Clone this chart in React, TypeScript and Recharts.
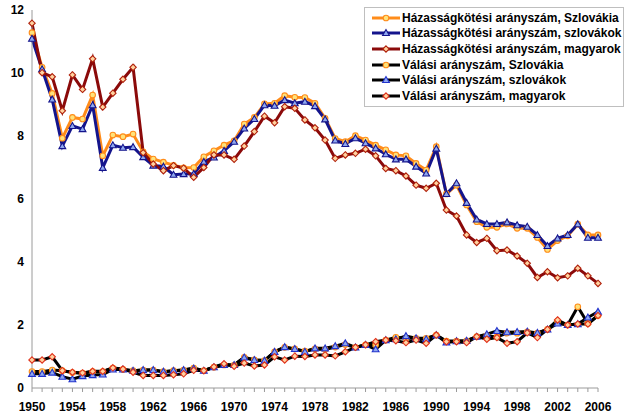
import React from 'react';
import { LineChart, Line, XAxis, YAxis } from 'recharts';

const years: number[] = [];
for (let y = 1950; y <= 2006; y++) years.push(y);

const marriageSlovakia = [
  11.28, 10.18, 9.35, 7.93, 8.59, 8.54, 9.30, 7.37, 8.03, 7.98, 8.06, 7.50, 7.27, 7.17, 7.07, 6.99, 7.00,
  7.34, 7.53, 7.71, 7.85, 8.38, 8.59, 9.02, 9.04, 9.28, 9.23, 9.22, 9.04, 8.56, 7.92,
  7.82, 8.01, 7.87, 7.71, 7.56, 7.40, 7.37, 7.13, 6.92, 7.66, 6.16, 6.44, 5.81, 5.28,
  5.10, 5.10, 5.21, 5.07, 5.07, 4.78, 4.40, 4.68, 4.83, 5.20, 4.86, 4.86,
];
const marriageSlovaks = [
  11.09, 10.12, 9.16, 7.68, 8.32, 8.22, 8.98, 6.99, 7.71, 7.63, 7.65, 7.33, 7.06, 7.03, 6.77, 6.79, 6.80,
  7.18, 7.32, 7.53, 7.82, 8.24, 8.54, 8.98, 8.96, 9.14, 9.04, 9.09, 8.95, 8.53, 7.86,
  7.75, 7.93, 7.77, 7.61, 7.42, 7.26, 7.26, 7.03, 6.81, 7.60, 6.16, 6.50, 5.88, 5.35,
  5.21, 5.21, 5.26, 5.17, 5.12, 4.86, 4.51, 4.75, 4.86, 5.20, 4.77, 4.77,
];
const marriageHungarians = [
  11.58, 10.01, 9.88, 8.80, 9.94, 9.48, 10.45, 8.92, 9.36, 9.80, 10.18, 7.47, 7.11, 6.90, 7.06, 6.98, 6.69,
  7.00, 7.40, 7.40, 7.26, 7.68, 8.14, 8.63, 8.42, 8.93, 8.88, 8.51, 8.26, 7.87, 7.29,
  7.40, 7.45, 7.58, 7.37, 6.97, 6.90, 6.73, 6.44, 6.34, 6.50, 5.65, 5.46, 4.86, 4.62,
  4.75, 4.36, 4.38, 4.19, 3.96, 3.51, 3.69, 3.50, 3.56, 3.80, 3.56, 3.32,
];
const divorceSlovakia = [
  0.52, 0.52, 0.57, 0.55, 0.49, 0.47, 0.52, 0.52, 0.63, 0.59, 0.55, 0.57, 0.57, 0.52, 0.55, 0.57, 0.63,
  0.55, 0.66, 0.73, 0.73, 0.97, 0.89, 0.87, 1.15, 1.29, 1.24, 1.17, 1.24, 1.22, 1.30,
  1.38, 1.29, 1.37, 1.37, 1.52, 1.61, 1.58, 1.58, 1.58, 1.68, 1.49, 1.49, 1.50, 1.63,
  1.66, 1.62, 1.74, 1.74, 1.78, 1.74, 1.86, 2.12, 2.00, 2.58, 2.05, 2.30,
];
const divorceSlovaks = [
  0.45, 0.45, 0.49, 0.36, 0.28, 0.38, 0.41, 0.43, 0.59, 0.59, 0.55, 0.57, 0.57, 0.52, 0.55, 0.57, 0.62,
  0.55, 0.66, 0.73, 0.73, 0.97, 0.89, 0.87, 1.15, 1.30, 1.24, 1.15, 1.26, 1.26, 1.33,
  1.42, 1.29, 1.37, 1.23, 1.52, 1.55, 1.65, 1.58, 1.55, 1.68, 1.45, 1.49, 1.50, 1.63,
  1.71, 1.81, 1.77, 1.78, 1.79, 1.75, 1.86, 2.05, 2.00, 2.03, 2.24, 2.42,
];
const divorceHungarians = [
  0.89, 0.89, 0.99, 0.55, 0.50, 0.48, 0.53, 0.53, 0.64, 0.60, 0.50, 0.40, 0.40, 0.40, 0.42, 0.45, 0.56,
  0.55, 0.67, 0.77, 0.69, 0.79, 0.70, 0.73, 0.99, 0.89, 1.01, 1.00, 1.05, 1.05, 1.02,
  1.15, 1.29, 1.37, 1.47, 1.52, 1.50, 1.44, 1.52, 1.42, 1.68, 1.47, 1.47, 1.44, 1.63,
  1.55, 1.60, 1.42, 1.47, 1.75, 1.60, 1.86, 2.16, 2.00, 2.03, 2.03, 2.30,
];

const yTicks = [0, 2, 4, 6, 8, 10, 12];

const seriesNames = [
  'Házasságkötési arányszám, Szlovákia',
  'Házasságkötési arányszám, szlovákok',
  'Házasságkötési arányszám, magyarok',
  'Válási arányszám, Szlovákia',
  'Válási arányszám, szlovákok',
  'Válási arányszám, magyarok',
];

const data = years.map((year, i) => ({
  year,
  mS: marriageSlovakia[i],
  mSk: marriageSlovaks[i],
  mH: marriageHungarians[i],
  dS: divorceSlovakia[i],
  dSk: divorceSlovaks[i],
  dH: divorceHungarians[i],
}));

type MarkerKind = 'circle' | 'triangle' | 'diamond';

function markerShape(kind: MarkerKind, cx: number, cy: number, fill: string, stroke: string, key?: any) {
  if (kind === 'circle') {
    return <circle key={key} cx={cx} cy={cy} r={2.8} fill={fill} stroke={stroke} strokeWidth={1.1} />;
  }
  if (kind === 'triangle') {
    const s = 3.4;
    return (
      <polygon
        key={key}
        points={`${cx},${cy - s} ${cx - s},${cy + s * 0.75} ${cx + s},${cy + s * 0.75}`}
        fill={fill}
        stroke={stroke}
        strokeWidth={1.1}
      />
    );
  }
  const s = 3.2;
  return (
    <polygon
      key={key}
      points={`${cx},${cy - s} ${cx + s},${cy} ${cx},${cy + s} ${cx - s},${cy}`}
      fill={fill}
      stroke={stroke}
      strokeWidth={1.1}
    />
  );
}

const makeDot = (kind: MarkerKind, fill: string, stroke: string) => (props: any) => {
  const { cx, cy, index } = props;
  if (cx == null || cy == null) return <g key={index} />;
  return markerShape(kind, cx, cy, fill, stroke, index);
};

const seriesDefs = [
  { key: 'mS', color: '#FF8C1A', kind: 'circle' as MarkerKind, mFill: '#FFE27A', mStroke: '#FF8C1A' },
  { key: 'mSk', color: '#14148C', kind: 'triangle' as MarkerKind, mFill: '#8FA8F0', mStroke: '#14148C' },
  { key: 'mH', color: '#8B0A0A', kind: 'diamond' as MarkerKind, mFill: '#FFD2A0', mStroke: '#B0200A' },
  { key: 'dS', color: '#000000', kind: 'circle' as MarkerKind, mFill: '#FFE27A', mStroke: '#FF8C1A' },
  { key: 'dSk', color: '#000000', kind: 'triangle' as MarkerKind, mFill: '#8FA8F0', mStroke: '#2233CC' },
  { key: 'dH', color: '#000000', kind: 'diamond' as MarkerKind, mFill: '#FFD2A0', mStroke: '#E0301A' },
];

const FONT = '"Liberation Sans", Arial, sans-serif';

const LegendBox = () => (
  <div
    style={{
      position: 'absolute',
      left: 364,
      top: 7,
      width: 260,
      border: '1px solid #BFBFBF',
      background: '#FFFFFF',
      padding: '2px 4px 2px 6px',
      fontFamily: FONT,
      fontWeight: 'bold',
      fontSize: 12,
      color: '#000',
      boxSizing: 'border-box',
    }}
  >
    {seriesDefs.map((s, i) => (
      <div key={s.key} style={{ display: 'flex', alignItems: 'center', height: 15.6, whiteSpace: 'nowrap' }}>
        <svg width={30} height={12} style={{ marginRight: 1, flex: 'none' }}>
          <line x1={1} y1={6} x2={29} y2={6} stroke={s.color} strokeWidth={3} />
          {markerShape(s.kind, 15, 6, s.mFill, s.mStroke)}
        </svg>
        <span>{seriesNames[i]}</span>
      </div>
    ))}
  </div>
);

export default function App() {
  return (
    <div style={{ position: 'absolute', left: 0, top: 0, width: 640, height: 416, background: '#fff' }}>
      <LineChart width={640} height={416} data={data} margin={{ top: 10, right: 42, bottom: 0, left: 0 }}>
        <XAxis
          dataKey="year"
          interval={0}
          height={28}
          tickSize={4}
          tickMargin={10}
          stroke="#9A9A9A"
          tick={{ fill: '#000', fontSize: 12, fontWeight: 'bold', fontFamily: FONT }}
          tickFormatter={(v: any) => ((Number(v) - 1950) % 4 === 0 ? String(v) : '')}
        />
        <YAxis
          domain={[0, 12]}
          ticks={yTicks}
          width={32}
          tickLine={false}
          stroke="#9A9A9A"
          tick={{ fill: '#000', fontSize: 12, fontWeight: 'bold', fontFamily: FONT }}
        />
        {seriesDefs.map((s, i) => (
          <Line
            key={s.key}
            type="linear"
            dataKey={s.key}
            name={seriesNames[i]}
            stroke={s.color}
            strokeWidth={3}
            dot={makeDot(s.kind, s.mFill, s.mStroke)}
            activeDot={false}
            isAnimationActive={false}
          />
        ))}
      </LineChart>
      <LegendBox />
    </div>
  );
}
